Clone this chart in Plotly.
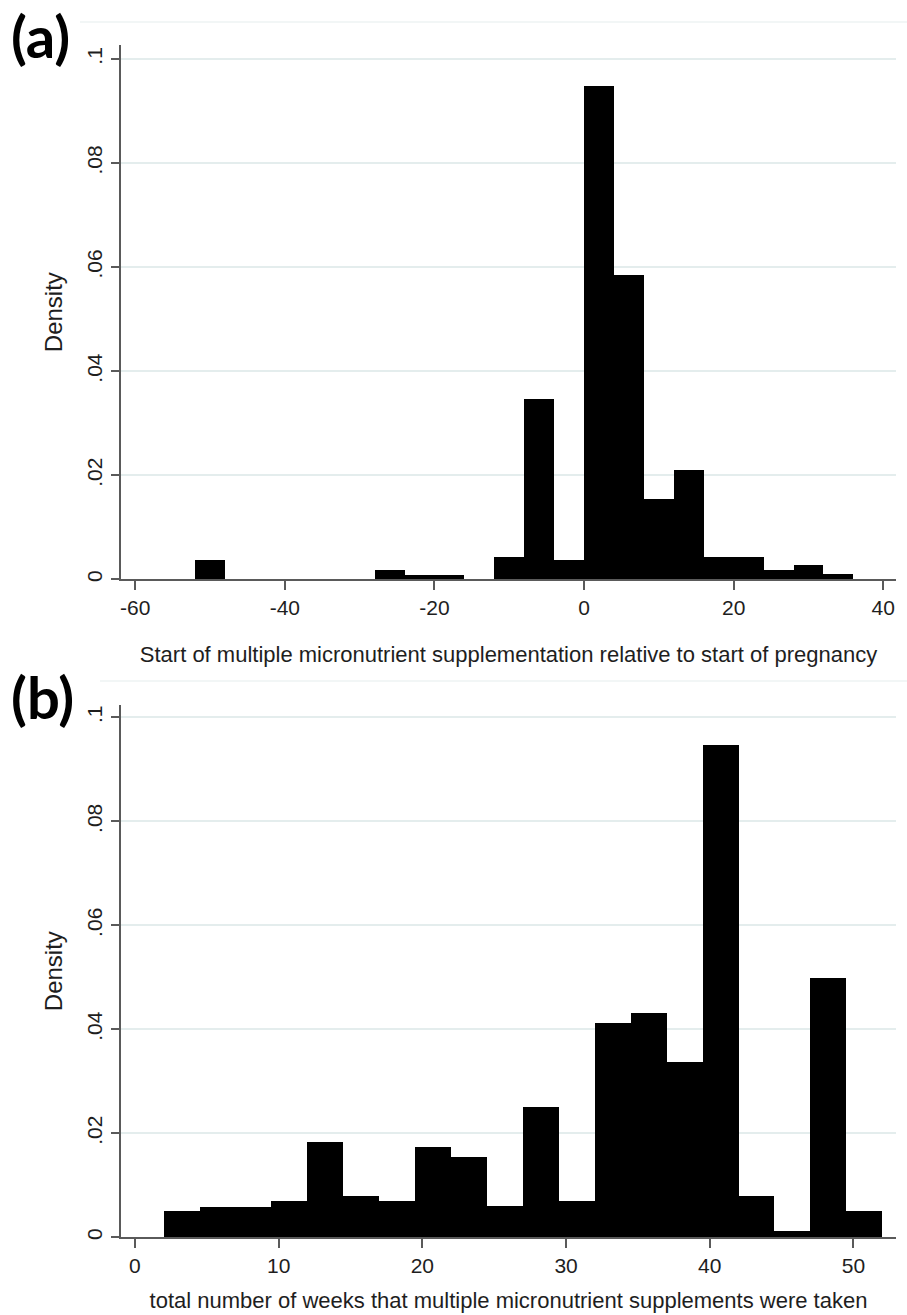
import plotly.graph_objects as go
from plotly.subplots import make_subplots

# ---- Panel (a): start of supplementation relative to start of pregnancy ----
a_bin_left = [-52, -48, -44, -40, -36, -32, -28, -24, -20, -16, -12, -8, -4,
              0, 4, 8, 12, 16, 20, 24, 28, 32]
a_bin_width = 4
a_density = [0.0037, 0, 0, 0, 0, 0, 0.0017, 0.0008, 0.0008, 0, 0.0042, 0.0346,
             0.0038, 0.0949, 0.0584, 0.0155, 0.0211, 0.0042, 0.0042, 0.0017,
             0.0027, 0.0010]
a_xticks = [-60, -40, -20, 0, 20, 40]
a_xticktext = ["-60", "-40", "-20", "0", "20", "40"]
a_xtitle = "Start of multiple micronutrient supplementation relative to start of pregnancy"

# ---- Panel (b): total number of weeks supplements were taken ----
b_bin_left = [2, 4.5, 7, 9.5, 12, 14.5, 17, 19.5, 22, 24.5, 27, 29.5, 32, 34.5,
              37, 39.5, 42, 44.5, 47, 49.5]
b_bin_width = 2.5
b_density = [0.0051, 0.0059, 0.0059, 0.0070, 0.0183, 0.0079, 0.0070, 0.0174,
             0.0154, 0.0060, 0.0250, 0.0070, 0.0413, 0.0431, 0.0338, 0.0947,
             0.0079, 0.0013, 0.0498, 0.0050]
b_xticks = [0, 10, 20, 30, 40, 50]
b_xtitle = "total number of weeks that multiple micronutrient supplements were taken"

y_tickvals = [0, 0.02, 0.04, 0.06, 0.08, 0.1]
y_ticktext = ["0", ".02", ".04", ".06", ".08", ".1"]

W, H = 907, 1315
FONT = "Liberation Sans, Arial, sans-serif"
TXT = "#1e1e1e"
AXC = "#5a5a5a"
GRID = "#e4eded"

fig = make_subplots(rows=2, cols=1)

fig.add_trace(go.Bar(x=a_bin_left, y=a_density, width=a_bin_width, offset=0,
                     marker=dict(color="black", line=dict(width=0)),
                     showlegend=False), row=1, col=1)
fig.add_trace(go.Bar(x=b_bin_left, y=b_density, width=b_bin_width, offset=0,
                     marker=dict(color="black", line=dict(width=0)),
                     showlegend=False), row=2, col=1)

xdom = [121 / W, 896 / W]
ya_dom = [1 - 579.3 / H, 1 - 45 / H]
yb_dom = [1 - 1237.3 / H, 1 - 705 / H]

common_x = dict(showgrid=False, zeroline=False, showline=True, linecolor=AXC,
                linewidth=1.5, ticks="outside", ticklen=9, tickwidth=1.5,
                tickcolor=AXC, tickfont=dict(family=FONT, size=21, color=TXT),
                automargin=False, domain=xdom)
common_y = dict(showgrid=True, gridcolor=GRID, gridwidth=1.5, zeroline=False,
                showline=True, linecolor=AXC, linewidth=1.5, ticks="outside",
                ticklen=8, tickwidth=1.5, tickcolor=AXC,
                tickvals=y_tickvals, ticktext=y_ticktext, tickangle=-90,
                tickfont=dict(family=FONT, size=21, color=TXT),
                ticklabelstandoff=1, automargin=False)

fig.update_xaxes(common_x, row=1, col=1, range=[-61.9, 41.7], tickvals=a_xticks,
                 ticktext=a_xticktext,
                 title=dict(text=a_xtitle, standoff=28,
                            font=dict(family=FONT, size=22, color=TXT)))
fig.update_xaxes(common_x, row=2, col=1, range=[-0.97, 52.96], tickvals=b_xticks,
                 title=dict(text=b_xtitle, standoff=16,
                            font=dict(family=FONT, size=22, color=TXT)))
fig.update_yaxes(common_y, row=1, col=1, range=[0, 0.1027], domain=ya_dom,
                 title=dict(text="Density", standoff=13,
                            font=dict(family=FONT, size=24, color=TXT)))
fig.update_yaxes(common_y, row=2, col=1, range=[0, 0.1024], domain=yb_dom,
                 title=dict(text="Density", standoff=13,
                            font=dict(family=FONT, size=24, color=TXT)))

# faint outer frame lines of the original graph regions
for yy, x0 in [(22, 80), (681, 100)]:
    fig.add_shape(type="line", xref="paper", yref="paper",
                  x0=x0 / W, x1=1, y0=1 - yy / H, y1=1 - yy / H,
                  line=dict(color="#eef3f3", width=1.5))

fig.add_annotation(text="<b>(a)</b>", xref="paper", yref="paper",
                   x=9 / W, y=1 - 35 / H, xanchor="left", yanchor="middle",
                   showarrow=False, font=dict(family="Lato, sans-serif", size=58, color="black"))
fig.add_annotation(text="<b>(b)</b>", xref="paper", yref="paper",
                   x=9 / W, y=1 - 696 / H, xanchor="left", yanchor="middle",
                   showarrow=False, font=dict(family="Lato, sans-serif", size=58, color="black"))

fig.update_layout(width=W, height=H, margin=dict(l=0, r=0, t=0, b=0),
                  paper_bgcolor="white", plot_bgcolor="white", bargap=0,
                  showlegend=False)

fig.write_html("out.html", config={"displayModeBar": False},
               post_script="document.body.style.margin='0';document.body.style.padding='0';")
